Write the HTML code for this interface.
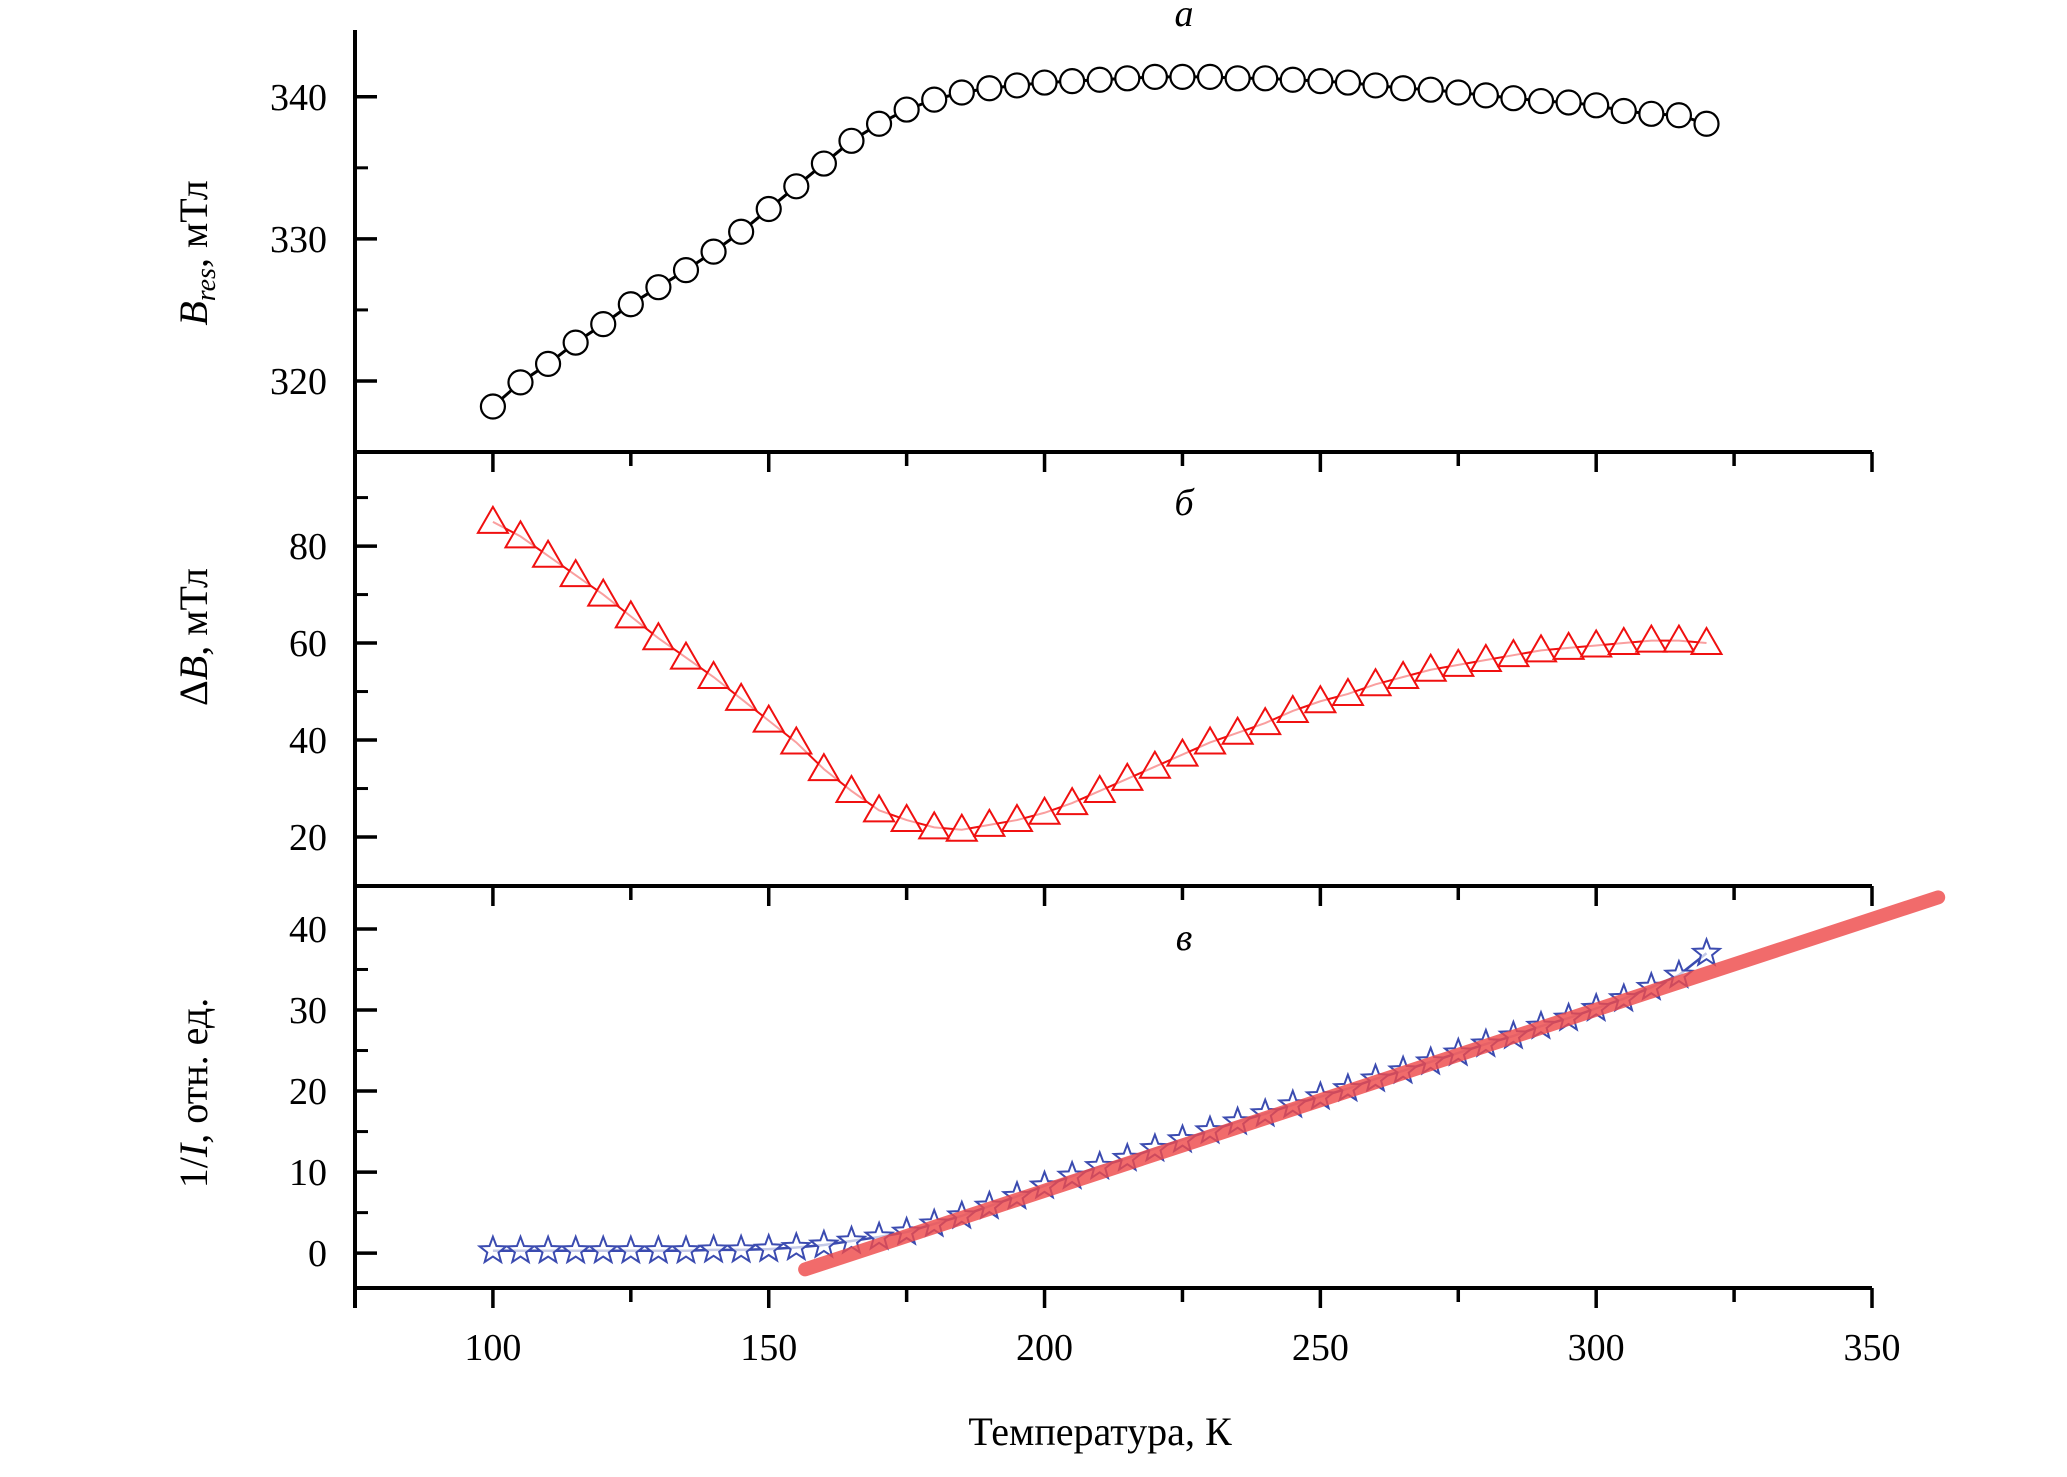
<!DOCTYPE html>
<html><head><meta charset="utf-8"><style>
html,body{margin:0;padding:0;background:#fff}
svg{display:block}
text{font-family:"Liberation Serif",serif;fill:#000}
</style></head><body>
<svg id="chart" width="2067" height="1477" viewBox="0 0 2067 1477" xmlns="http://www.w3.org/2000/svg"></svg>
<script>
const temps=[100,105,110,115,120,125,130,135,140,145,150,155,160,165,170,175,180,185,190,195,200,205,210,215,220,225,230,235,240,245,250,255,260,265,270,275,280,285,290,295,300,305,310,315,320];
const bresValues=[318.2,319.9,321.2,322.7,324.0,325.4,326.6,327.8,329.1,330.5,332.1,333.7,335.3,336.9,338.1,339.1,339.8,340.3,340.6,340.8,341.0,341.1,341.2,341.3,341.4,341.4,341.4,341.3,341.3,341.2,341.1,341.0,340.8,340.6,340.5,340.3,340.1,339.9,339.7,339.6,339.4,339.0,338.8,338.7,338.1];
const dbValues=[85,82,78,74,70,65.5,61,57,53,48.5,44,39.5,34,29.5,25.5,23.5,22,21.5,22.5,23.5,25,27,29.5,32,34.5,37,39.5,41.5,43.5,46,48,49.5,51.5,53,54.5,55.5,56.5,57.5,58.5,59,59.5,60,60.5,60.5,60];
const invIValues=[0.3,0.3,0.3,0.3,0.3,0.3,0.3,0.3,0.4,0.4,0.5,0.7,1.0,1.5,2.0,2.6,3.6,4.6,5.8,7.0,8.3,9.5,10.7,11.7,12.9,14.0,15.1,16.2,17.2,18.3,19.3,20.3,21.5,22.5,23.6,24.7,25.8,26.8,28.0,29.0,30.2,31.4,32.8,34.3,37.0];
const fitT=[156.6,362];
const fitV=[-2,43.9];
const xTicks=[100,150,200,250,300,350];
const aTicks=[320,330,340];
const bTicks=[20,40,60,80];
const cTicks=[0,10,20,30,40];

const svg=document.getElementById('chart');
const NS='http://www.w3.org/2000/svg';
function el(tag,attrs,parent){const e=document.createElementNS(NS,tag);for(const k in attrs)e.setAttribute(k,attrs[k]);(parent||svg).appendChild(e);return e;}
const X0=355,X1=1872;
const xs=t=>X0+(t-75)/(350-75)*(X1-X0);
const panels=[
 {top:30,bot:452,min:315,max:344.7,ticks:aTicks,minor:[325,335]},
 {top:452,bot:886,min:9.9,max:99.4,ticks:bTicks,minor:[30,50,70,90]},
 {top:886,bot:1288,min:-4.3,max:45.3,ticks:cTicks,minor:[5,15,25,35]}
];
panels.forEach(p=>{p.y=v=>p.bot-(v-p.min)/(p.max-p.min)*(p.bot-p.top);});
const [pa,pb,pc]=panels;

let g=el('g',{});


el('line',{x1:X0,y1:30,x2:X0,y2:1308,stroke:'#000','stroke-width':4},g);
[452,886,1288].forEach((y,i)=>{
 const l=el('line',{x1:X0-2,y1:y,x2:X1,y2:y,stroke:'#000','stroke-width':4},g);
 
 
 for(let t=100;t<=350;t+=25){
  const major=t%50===0;
  el('line',{x1:xs(t),y1:y,x2:xs(t),y2:y+(major?20:14),stroke:'#000','stroke-width':3.5},g);
 }
});
panels.forEach((p,pi)=>{
 p.ticks.forEach(v=>{
  el('line',{x1:X0,y1:p.y(v),x2:X0+22,y2:p.y(v),stroke:'#000','stroke-width':3.5},g);
  const t=el('text',{x:X0-28,y:p.y(v)+13,'text-anchor':'end','font-size':38},g);
  t.textContent=v;
  
  
 });
 p.minor.forEach(v=>{el('line',{x1:X0,y1:p.y(v),x2:X0+13,y2:p.y(v),stroke:'#000','stroke-width':3},g);});
});
xTicks.forEach(v=>{
 const t=el('text',{x:xs(v),y:1360,'text-anchor':'middle','font-size':38},g);
 t.textContent=v;
 
 
});
let xt=el('text',{x:1100,y:1445,'text-anchor':'middle','font-size':40});
xt.textContent='Температура, К';



function ytitle(html,cy,name){
 const t=el('text',{transform:`translate(207,${cy}) rotate(-90)`,'text-anchor':'middle','font-size':40});
 t.innerHTML=html;
 
 
}
ytitle('<tspan font-style="italic">B</tspan><tspan font-style="italic" font-size="28" dy="8">res</tspan><tspan dy="-8">, мТл</tspan>',253,'y-axis-title-a');
ytitle('Δ<tspan font-style="italic">B</tspan>, мТл',637,'y-axis-title-b');
ytitle('1/<tspan font-style="italic">I</tspan>, отн. ед.',1093,'y-axis-title-c');
[['а',26],['б',515],['в',950]].forEach(([s,y])=>{
 const t=el('text',{x:1184,y:y,'text-anchor':'middle','font-size':38,'font-style':'italic'});
 t.textContent=s;
 
 
});

let ga=el('g',{});


el('polyline',{points:temps.map((t,i)=>xs(t)+','+pa.y(bresValues[i])).join(' '),fill:'none',stroke:'#000','stroke-width':3},ga);
temps.forEach((t,i)=>{
 const c=el('circle',{cx:xs(t),cy:pa.y(bresValues[i]),r:12,fill:'#fff',stroke:'#000','stroke-width':2.2},ga);
 
 
});
let gb=el('g',{});


el('polyline',{points:temps.map((t,i)=>xs(t)+','+pb.y(dbValues[i])).join(' '),fill:'none',stroke:'#f01010','stroke-width':2},gb);
temps.forEach((t,i)=>{
 const x=xs(t),y=pb.y(dbValues[i]);
 const p=el('polygon',{points:`${x},${y-15} ${x+15},${y+11} ${x-15},${y+11}`,fill:'#fff','fill-opacity':0.6,stroke:'#f01010','stroke-width':2},gb);
 
 
});
let gc=el('g',{});


el('polyline',{points:temps.map((t,i)=>xs(t)+','+pc.y(invIValues[i])).join(' '),fill:'none',stroke:'#3b4bb0','stroke-width':2.5},gc);
function star(x,y,R){const r=R*0.42;let pts=[];for(let k=0;k<10;k++){const a=-Math.PI/2+k*Math.PI/5;const rr=k%2?r:R;pts.push((x+rr*Math.cos(a)).toFixed(1)+','+(y+rr*Math.sin(a)).toFixed(1));}return pts.join(' ');}
temps.forEach((t,i)=>{
 const p=el('polygon',{points:star(xs(t),pc.y(invIValues[i]),14),fill:'#fff','fill-opacity':0.7,stroke:'#3b4bb0','stroke-width':2},gc);
 
 
});
let fit=el('line',{x1:xs(fitT[0]),y1:pc.y(fitV[0]),x2:xs(fitT[1]),y2:pc.y(fitV[1]),stroke:'#ee4a4a','stroke-opacity':0.82,'stroke-width':14,'stroke-linecap':'round'});


</script>
</body></html>
